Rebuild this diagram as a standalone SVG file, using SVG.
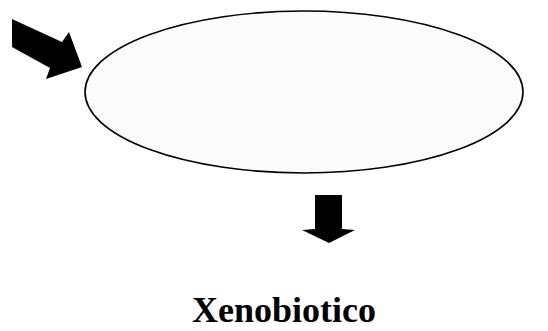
<svg xmlns="http://www.w3.org/2000/svg" width="548" height="331" viewBox="0 0 548 331">
<style>
.arrow{fill:#000;stroke:none}
.label{font-family:"Liberation Serif",serif;font-weight:bold;font-size:36px;fill:#000}
</style>
<rect width="548" height="331" fill="#fff"/>
<g id="cell">
<ellipse cx="304" cy="92" rx="219" ry="81" fill="#fbfbfb" stroke="#000" stroke-width="1.6"/>
</g>
<g id="connectors">
<polygon class="arrow" points="12,19 62,42 69,32 82,67 46,79 50,68 12,47"/>
<polygon class="arrow" points="315,195 342,195 342,229 355,230 329,243 302,230 315,229"/>
</g>
<g id="xenobiotico">
<text class="label" x="284" y="322" text-anchor="middle">Xenobiotico</text>
</g>
</svg>
